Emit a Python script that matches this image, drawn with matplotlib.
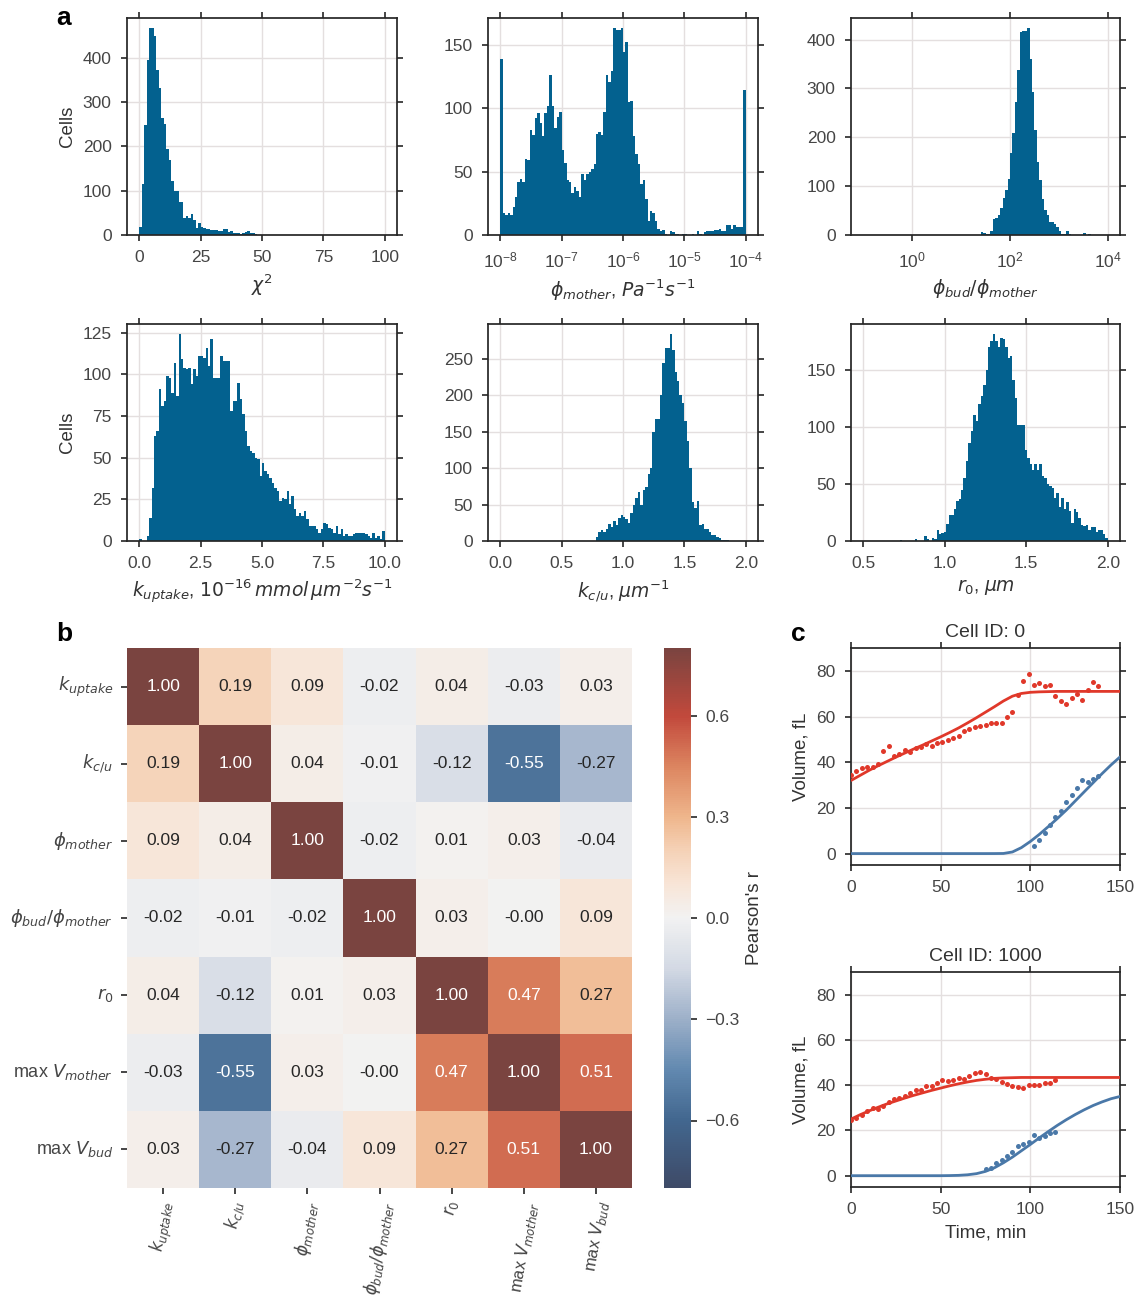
import numpy as np
import matplotlib
matplotlib.use("Agg")
import matplotlib.pyplot as plt
import seaborn as sns
from matplotlib.colors import LinearSegmentedColormap
from matplotlib.ticker import NullLocator

# ---------------- data ----------------
# histogram bin ranges (100 bins each)
CHI2_RANGE = (0.0, 100.0)
PHIM_LOG_RANGE = (-8.0, -4.0)
RATIO_LOG_RANGE = (-1.0, 4.0)
KUP_RANGE = (0.0, 10.0)
KCU_RANGE = (0.0, 2.0)
R0_RANGE = (0.5, 2.0)

CHI2_COUNTS = [19, 115, 247, 395, 466, 466, 449, 372, 331, 264,
               250, 194, 170, 122, 100, 100, 74, 74, 38, 42,
               38, 47, 34, 15, 28, 19, 15, 14, 13, 12,
               12, 11, 10, 9, 13, 13, 7, 10, 5, 4,
               5, 3, 4, 6, 9, 4, 5, 3] + [0] * 52

PHIM_COUNTS = [139, 17, 16, 17, 16, 22, 30, 42, 44, 42,
               60, 59, 83, 79, 92, 96, 88, 78, 96, 102,
               126, 102, 84, 93, 97, 67, 57, 43, 42, 33,
               38, 35, 30, 48, 43, 48, 50, 52, 56, 80,
               81, 79, 97, 126, 121, 129, 163, 162, 162, 163,
               144, 152, 105, 106, 78, 64, 56, 40, 43, 28,
               11, 19, 17, 11, 5, 3, 4, 1, 0, 3,
               2, 1, 1, 0, 1, 1, 0, 0, 1, 0,
               3, 1, 0, 2, 3, 3, 3, 4, 4, 5,
               3, 3, 8, 8, 5, 8, 6, 6, 6, 114]

RATIO_COUNTS = [0] * 48 + [6, 5, 3, 2, 9, 32, 34, 40, 56, 75,
                           93, 114, 167, 208, 272, 338, 415, 417, 418, 423,
                           360, 292, 215, 150, 112, 74, 51, 40, 26, 26,
                           23, 16, 9, 3, 2, 8, 2, 1, 0, 0,
                           1, 0, 4, 1, 2, 0, 0, 0, 0, 0, 0, 0]

KUP_COUNTS = [1, 0, 0, 3, 14, 32, 63, 66, 91, 81,
              84, 99, 98, 89, 107, 87, 124, 109, 104, 103,
              104, 94, 103, 99, 111, 111, 110, 116, 105, 121,
              98, 98, 98, 111, 108, 108, 108, 78, 84, 84,
              95, 85, 76, 66, 57, 54, 53, 50, 49, 39,
              47, 42, 40, 38, 35, 32, 30, 24, 26, 25,
              30, 22, 27, 19, 15, 17, 15, 18, 13, 9,
              9, 9, 7, 5, 7, 11, 10, 8, 7, 5,
              9, 4, 7, 3, 4, 3, 3, 4, 5, 5,
              5, 5, 4, 3, 2, 5, 2, 3, 1, 6]

KCU_COUNTS = [0] * 39 + [5, 12, 15, 12, 16, 24, 19, 27, 22, 31,
                         36, 33, 30, 25, 38, 50, 59, 67, 50, 70,
                         74, 92, 100, 150, 168, 168, 200, 245, 265, 265,
                         284, 262, 232, 220, 200, 190, 165, 137, 100, 53,
                         45, 55, 22, 24, 17, 16, 12, 8, 8, 5,
                         4, 2, 1, 1, 0, 0, 0, 0, 0, 0, 0]

R0_COUNTS = [0] * 15 + [1, 0, 0, 0, 0, 0, 2, 0, 0, 0,
                        4, 2, 0, 3, 2, 10, 6, 7, 8, 15,
                        23, 23, 28, 35, 37, 45, 55, 70, 86, 96,
                        110, 105, 120, 127, 137, 150, 170, 175, 181, 175,
                        170, 178, 177, 170, 160, 162, 141, 125, 102, 102,
                        102, 80, 73, 67, 62, 67, 62, 67, 57, 55,
                        50, 48, 46, 38, 42, 30, 38, 28, 34, 26,
                        16, 28, 25, 20, 14, 13, 14, 10, 12, 12,
                        8, 10, 10, 6, 3]

# correlation matrix
CORR_LABELS = [r'$k_{uptake}$', r'$k_{c/u}$', r'$\phi_{mother}$',
               r'$\phi_{bud}/\phi_{mother}$', r'$r_0$',
               r'max $V_{mother}$', r'max $V_{bud}$']
CORR = [[1.00, 0.19, 0.09, -0.02, 0.04, -0.03, 0.03],
        [0.19, 1.00, 0.04, -0.01, -0.12, -0.55, -0.27],
        [0.09, 0.04, 1.00, -0.02, 0.01, 0.03, -0.04],
        [-0.02, -0.01, -0.02, 1.00, 0.03, -0.0, 0.09],
        [0.04, -0.12, 0.01, 0.03, 1.00, 0.47, 0.27],
        [-0.03, -0.55, 0.03, -0.0, 0.47, 1.00, 0.51],
        [0.03, -0.27, -0.04, 0.09, 0.27, 0.51, 1.00]]

# cell 0
C0_MOTHER_T = [0, 3, 6, 9, 12, 15, 18, 21, 24, 27, 30, 33, 36, 39, 42, 45,
               48, 51, 54, 57, 60, 63, 66, 69, 72, 75, 78, 81, 84, 87, 90,
               93, 96, 99, 102, 105, 108, 111, 114, 117, 120, 123, 126, 129,
               132, 135, 138]
C0_MOTHER_V = [34.2, 36.1, 37.3, 37.9, 37.9, 39.4, 44.8, 47.0, 42.7, 43.5,
               45.2, 44.6, 46.4, 46.7, 47.9, 47.0, 48.5, 48.9, 49.6, 50.4,
               51.4, 53.7, 54.5, 55.5, 55.9, 56.2, 57.3, 57.3, 57.3, 59.9,
               62.1, 69.5, 75.6, 78.7, 73.7, 74.6, 73.4, 73.6, 69.0, 67.0,
               65.6, 68.0, 69.9, 67.3, 71.7, 74.9, 73.4]
C0_BUD_T = [102, 105, 108, 111, 114, 117, 120, 123, 126, 129, 132, 135, 138]
C0_BUD_V = [3.4, 6.0, 8.8, 12.5, 15.9, 18.5, 22.5, 25.7, 28.8, 32.0, 31.3,
            32.7, 33.9]
FIT_T = [0, 5, 10, 15, 20, 25, 30, 35, 40, 45, 50, 55, 60, 65, 70, 75, 80,
         85, 90, 95, 100, 105, 110, 115, 120, 125, 130, 135, 140, 145, 150]
C0_MOTHER_FIT = [32.0, 34.2, 36.4, 38.4, 40.3, 42.2, 44.0, 45.8, 47.5, 49.3,
                 51.1, 53.0, 55.0, 57.2, 59.5, 61.9, 64.3, 66.8, 68.9, 70.1,
                 70.6, 70.8, 70.9, 71.0, 71.0, 71.0, 71.0, 71.0, 71.0, 71.0,
                 71.0]
C0_BUD_FIT = [0, 0, 0, 0, 0, 0, 0, 0, 0, 0, 0, 0, 0, 0, 0, 0, 0.01,
              0.05, 0.7, 2.6, 5.3, 8.4, 11.8, 15.3, 19.0, 23.0, 27.0, 31.0,
              35.0, 38.8, 42.3]

# cell 1000
C1_MOTHER_T = [0, 3, 6, 9, 12, 15, 18, 21, 24, 27, 30, 33, 36, 39, 42, 45,
               48, 51, 54, 57, 60, 63, 66, 69, 72, 75, 78, 81, 84, 87, 90,
               93, 96, 99, 102, 105, 108, 111, 114]
C1_MOTHER_V = [24.5, 25.7, 27.0, 28.5, 29.7, 29.4, 30.7, 32.6, 33.9, 34.5,
               35.2, 36.6, 37.7, 38.0, 39.6, 39.8, 41.1, 42.1, 41.7, 42.4,
               43.2, 42.9, 44.1, 45.4, 45.8, 45.1, 43.3, 42.6, 41.4, 40.7,
               39.5, 39.2, 38.8, 40.2, 40.1, 39.9, 41.0, 41.0, 42.1]
C1_BUD_T = [75, 78, 81, 84, 87, 90, 93, 96, 99, 102, 105, 108, 111, 114]
C1_BUD_V = [2.9, 3.2, 5.4, 6.9, 8.7, 10.6, 13.1, 14.2, 14.7, 17.9, 16.7,
            17.6, 18.9, 19.1]
C1_MOTHER_FIT = [25.0, 26.9, 28.6, 30.2, 31.7, 33.0, 34.3, 35.5, 36.6, 37.7,
                 38.7, 39.7, 40.6, 41.4, 42.1, 42.6, 43.0, 43.2, 43.3, 43.4,
                 43.4, 43.4, 43.4, 43.4, 43.4, 43.4, 43.4, 43.4, 43.4, 43.4,
                 43.4]
C1_BUD_FIT = [0, 0, 0, 0, 0, 0, 0, 0, 0, 0, 0, 0.05, 0.15, 0.4, 0.9, 1.9,
              3.5, 5.7, 8.2, 11.0, 13.8, 16.7, 19.5, 22.2, 24.7, 27.0, 29.1,
              31.0, 32.6, 34.0, 35.0]

# ---------------- style ----------------
sns.set_style("ticks")
plt.rcParams['font.family'] = ['Liberation Sans', 'DejaVu Sans']
plt.rcParams['mathtext.fontset'] = 'dejavusans'
plt.rcParams.update({
    'text.color': '.2', 'axes.labelcolor': '.2',
    'xtick.color': '.15', 'ytick.color': '.15',
    'xtick.labelcolor': '.27', 'ytick.labelcolor': '.27',
    'axes.edgecolor': '.15', 'axes.linewidth': 1.25,
    'xtick.major.width': 1.2, 'ytick.major.width': 1.2,
    'xtick.major.size': 4.5, 'ytick.major.size': 4.5,
    'xtick.major.pad': 6.5, 'ytick.major.pad': 6.5,
    'axes.labelpad': 5,
})

HIST_COLOR = '#03618f'
RED = '#e0382a'
BLUE = '#4a78a8'
GRID = '#e4dfdf'
TICK_FS = 12.5
LABEL_FS = 13.5

W, H = 1137, 1300
fig = plt.figure(figsize=(W / 100, H / 100), dpi=100)


def box(l, t, r, b):
    return [l / W, 1 - b / H, (r - l) / W, (b - t) / H]


def style_axes(ax):
    ax.grid(True, color=GRID, linewidth=1.0)
    ax.set_axisbelow(True)
    ax.tick_params(top=True, right=True, labelsize=TICK_FS, direction='out')


cols = [(127, 397), (488, 758), (851, 1120)]
rows = [(18, 235), (324, 541)]

hist_specs = [
    (CHI2_COUNTS, np.linspace(*CHI2_RANGE, 101), False, r'$\chi^2$',
     [0, 25, 50, 75, 100], ['0', '25', '50', '75', '100'], [0, 100, 200, 300, 400]),
    (PHIM_COUNTS, np.logspace(*PHIM_LOG_RANGE, 101), True,
     r'$\phi_{mother}$, $Pa^{-1}s^{-1}$',
     [1e-8, 1e-7, 1e-6, 1e-5, 1e-4], None, [0, 50, 100, 150]),
    (RATIO_COUNTS, np.logspace(*RATIO_LOG_RANGE, 101), True,
     r'$\phi_{bud}/\phi_{mother}$', [1, 1e2, 1e4], None, [0, 100, 200, 300, 400]),
    (KUP_COUNTS, np.linspace(*KUP_RANGE, 101), False,
     r'$k_{uptake}$, $10^{-16}\,mmol\,\mu m^{-2}s^{-1}$',
     [0, 2.5, 5, 7.5, 10], ['0.0', '2.5', '5.0', '7.5', '10.0'],
     [0, 25, 50, 75, 100, 125]),
    (KCU_COUNTS, np.linspace(*KCU_RANGE, 101), False, r'$k_{c/u}$, $\mu m^{-1}$',
     [0, 0.5, 1, 1.5, 2], ['0.0', '0.5', '1.0', '1.5', '2.0'],
     [0, 50, 100, 150, 200, 250]),
    (R0_COUNTS, np.linspace(*R0_RANGE, 101), False, r'$r_0$, $\mu m$',
     [0.5, 1, 1.5, 2], ['0.5', '1.0', '1.5', '2.0'], [0, 50, 100, 150]),
]

for i, (counts, edges, logx, xlabel, xt, xtl, yt) in enumerate(hist_specs):
    r, c = divmod(i, 3)
    ax = fig.add_axes(box(cols[c][0], rows[r][0], cols[c][1], rows[r][1]))
    if logx:
        ax.set_xscale('log')
    ax.stairs(counts, edges, fill=True, color=HIST_COLOR, linewidth=0)
    style_axes(ax)
    ax.set_xticks(xt)
    if xtl is not None:
        ax.set_xticklabels(xtl)
    ax.xaxis.set_minor_locator(NullLocator())
    ax.set_yticks(yt)
    ax.set_xlabel(xlabel, fontsize=LABEL_FS)
    if c == 0:
        ax.set_ylabel('Cells', fontsize=LABEL_FS)

# ---------------- heatmap ----------------
anchors = [(-0.8, '#3e4a67'), (-0.6, '#42678f'), (-0.45, '#6289b0'),
           (-0.3, '#9db0c9'), (-0.15, '#d3d9e4'), (0.0, '#f2f2f2'),
           (0.1, '#f8e5d7'), (0.2, '#f5d2b7'), (0.3, '#efb68c'),
           (0.45, '#dc8560'), (0.6, '#c2493c'), (0.8, '#7a4440')]
cmap = LinearSegmentedColormap.from_list(
    'corr', [((v + 0.8) / 1.6, col) for v, col in anchors])

hax = fig.add_axes(box(127, 648, 632, 1188))
cax = fig.add_axes(box(664, 648, 691, 1188))
sns.heatmap(np.array(CORR), ax=hax, cbar_ax=cax, cmap=cmap, vmin=-0.8, vmax=0.8,
            annot=True, fmt='.2f', annot_kws={'fontsize': 12.5},
            xticklabels=CORR_LABELS, yticklabels=CORR_LABELS,
            cbar_kws={'ticks': [-0.6, -0.3, 0.0, 0.3, 0.6]})
hax.set_xticklabels(CORR_LABELS, rotation=80, fontsize=12)
hax.set_yticklabels(CORR_LABELS, rotation=0, fontsize=13)
hax.tick_params(axis='y', length=4, width=1.2, pad=6)
hax.tick_params(axis='x', length=4, width=1.2, pad=4)
cax.tick_params(labelsize=12.5, length=4, width=1.2, pad=6)
cax.set_ylabel("Pearson's r", fontsize=13.5)

# ---------------- cell traces ----------------
cells = [
    ('Cell ID: 0', (648, 865), C0_MOTHER_T, C0_MOTHER_V, C0_BUD_T, C0_BUD_V,
     C0_MOTHER_FIT, C0_BUD_FIT, False),
    ('Cell ID: 1000', (972, 1187), C1_MOTHER_T, C1_MOTHER_V, C1_BUD_T, C1_BUD_V,
     C1_MOTHER_FIT, C1_BUD_FIT, True),
]
for title, (t, b), mt, mv, bt, bv, mfit, bfit, xl in cells:
    ax = fig.add_axes(box(851, t, 1120, b))
    style_axes(ax)
    ax.plot(FIT_T, mfit, color=RED, lw=2.0, zorder=3)
    ax.plot(FIT_T, bfit, color=BLUE, lw=2.0, zorder=3)
    ax.plot(mt, mv, 'o', color=RED, ms=3.6, mew=0, zorder=4)
    ax.plot(bt, bv, 'o', color=BLUE, ms=3.6, mew=0, zorder=4)
    ax.set_xlim(0, 150)
    ax.set_ylim(-5, 90)
    ax.set_xticks([0, 50, 100, 150])
    ax.set_yticks([0, 20, 40, 60, 80])
    ax.set_title(title, fontsize=14, pad=8)
    ax.set_ylabel('Volume, fL', fontsize=LABEL_FS)
    if xl:
        ax.set_xlabel('Time, min', fontsize=LABEL_FS)

# panel letters
for letter, x, y in [('a', 64, 18), ('b', 64, 634), ('c', 798, 634)]:
    fig.text(x / W, 1 - y / H, letter, fontsize=19, fontweight='bold',
             color='black', ha='center', va='center')

fig.savefig('out.png', dpi=100)
